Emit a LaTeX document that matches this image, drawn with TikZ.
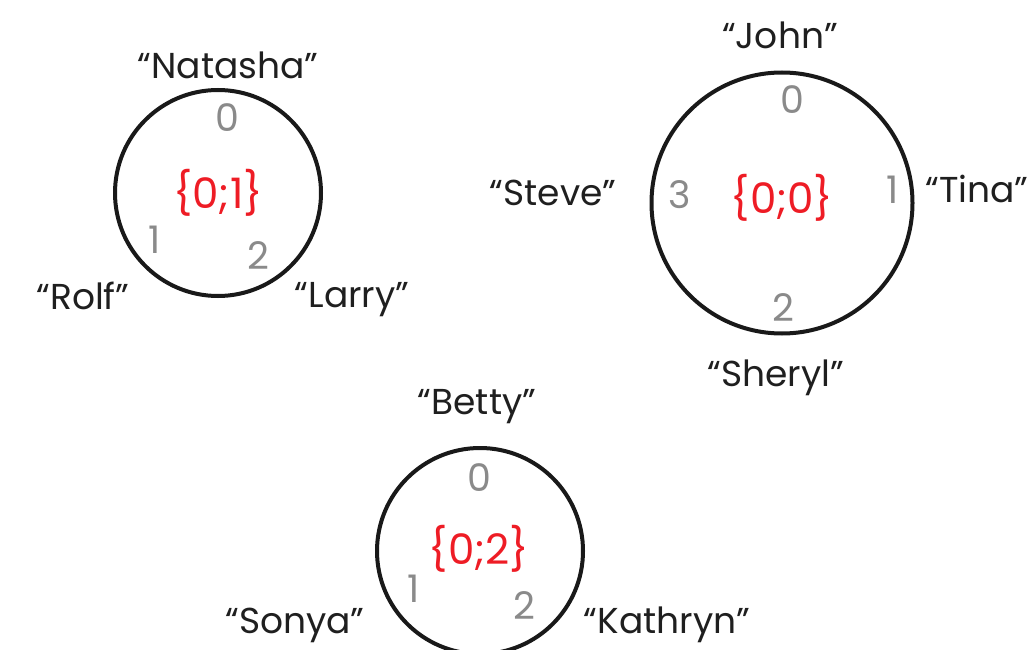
\documentclass[tikz,border=0pt]{standalone}
\usepackage{fontspec}
\setmainfont{Poppins}
\definecolor{numgray}{HTML}{8A8A8A}
\definecolor{setred}{HTML}{EE1C25}
\begin{document}
\begin{tikzpicture}[x=1pt,y=-1pt,
  ring/.style={draw=black!90,line width=4pt,circle,inner sep=0pt},
  lbl/.style={font=\fontsize{36}{36}\selectfont,text=black!88,inner sep=0pt,anchor=center},
  num/.style={font=\fontsize{38}{38}\selectfont,text=numgray,inner sep=0pt,anchor=center},
  setl/.style={font=\fontsize{42}{42}\selectfont,text=setred,inner sep=0pt,anchor=center}]
\useasboundingbox (0,0) rectangle (1034,650);
% circle 1
\node[ring,minimum size=206pt] (c1) at (218,193) {};
\node[lbl] (natasha) at (228,65) {“Natasha”};
\node[num] (c1n0) at (227,118) {0};
\node[setl] (c1s) at (218,193) {\{0;1\}};
\node[num] (c1n1) at (155,240) {1};
\node[num] (c1n2) at (258,256) {2};
\node[lbl] (rolf) at (83,296) {“Rolf”};
\node[lbl] (larry) at (352,300) {“Larry”};
% circle 2
\node[ring,minimum size=261pt] (c2) at (782,203) {};
\node[lbl] (john) at (780,35) {“John”};
\node[num] (c2n0) at (792,100) {0};
\node[num] (c2n3) at (680,195) {3};
\node[setl] (c2s) at (782,198) {\{0;0\}};
\node[num] (c2n1) at (893,190) {1};
\node[lbl] (steve) at (553,193) {“Steve”};
\node[lbl] (tina) at (977,189) {“Tina”};
\node[num] (c2n2) at (783,308) {2};
\node[lbl] (sheryl) at (776,378) {“Sheryl”};
% circle 3
\node[ring,minimum size=206pt] (c3) at (480,551) {};
\node[lbl] (betty) at (477,407) {“Betty”};
\node[num] (c3n0) at (479,478) {0};
\node[setl] (c3s) at (479,549) {\{0;2\}};
\node[num] (c3n1) at (414,589) {1};
\node[num] (c3n2) at (524,606) {2};
\node[lbl] (sonya) at (295,625) {“Sonya”};
\node[lbl] (kathryn) at (667,625) {“Kathryn”};
\end{tikzpicture}
\end{document}
